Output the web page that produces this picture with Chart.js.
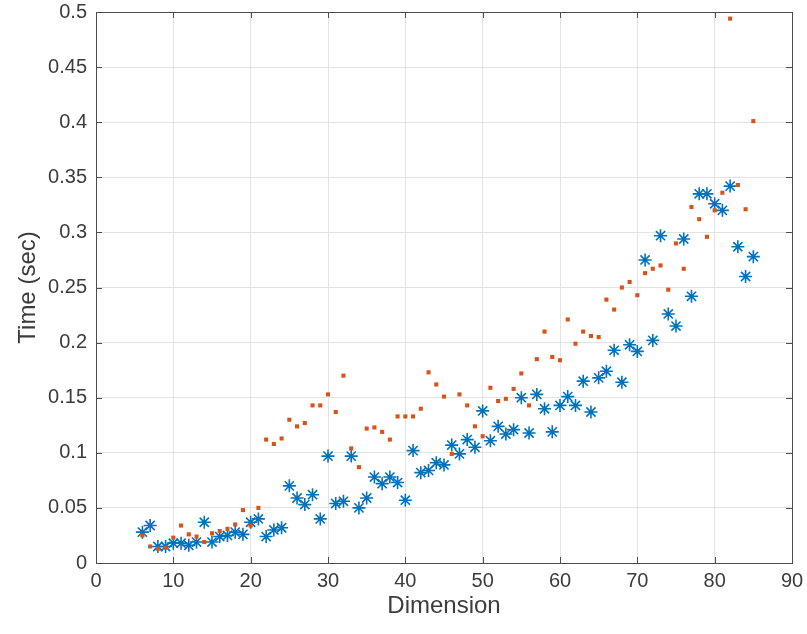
<!DOCTYPE html>
<html>
<head>
<meta charset="utf-8">
<script src="https://cdn.jsdelivr.net/npm/chart.js@4/dist/chart.umd.min.js"></script>
<style>
  html, body { margin: 0; padding: 0; background: #fff; }
  canvas { display: block; }
</style>
</head>
<body>
<canvas id="myChart" width="807" height="634"></canvas>
<script>
// dimensions 6..85
const dims = [6,7,8,9,10,11,12,13,14,15,16,17,18,19,20,21,22,23,24,25,
  26,27,28,29,30,31,32,33,34,35,36,37,38,39,40,41,42,43,44,45,
  46,47,48,49,50,51,52,53,54,55,56,57,58,59,60,61,62,63,64,65,
  66,67,68,69,70,71,72,73,74,75,76,77,78,79,80,81,82,83,84,85];

// blue asterisks
const timeStar = [0.028,0.034,0.015,0.015,0.018,0.018,0.016,0.019,0.037,0.019,
  0.024,0.025,0.028,0.026,0.037,0.040,0.024,0.030,0.032,0.070,
  0.059,0.053,0.062,0.040,0.097,0.054,0.056,0.097,0.050,0.059,
  0.078,0.072,0.078,0.073,0.057,0.102,0.082,0.084,0.091,0.089,
  0.107,0.099,0.112,0.105,0.138,0.111,0.124,0.117,0.121,0.150,
  0.118,0.153,0.140,0.119,0.143,0.151,0.143,0.165,0.137,0.168,
  0.174,0.193,0.164,0.198,0.192,0.275,0.202,0.297,0.226,0.215,
  0.294,0.242,0.335,0.335,0.326,0.320,0.342,0.287,0.260,0.278];

// orange dots
const timeDot = [0.025,0.015,0.013,0.014,0.023,0.034,0.026,0.024,0.019,0.027,
  0.029,0.031,0.035,0.048,0.034,0.050,0.112,0.108,0.113,0.130,
  0.124,0.127,0.143,0.143,0.153,0.137,0.170,0.104,0.087,0.122,
  0.123,0.119,0.112,0.133,0.133,0.133,0.140,0.173,0.162,0.151,
  0.099,0.153,0.143,0.124,0.115,0.159,0.147,0.149,0.158,0.172,
  0.143,0.185,0.210,0.187,0.184,0.221,0.199,0.210,0.206,0.205,
  0.239,0.230,0.250,0.255,0.243,0.263,0.267,0.270,0.248,0.290,
  0.267,0.323,0.312,0.296,0.320,0.336,0.494,0.343,0.321,0.401];

const yTickLabels = ['0','0.05','0.1','0.15','0.2','0.25','0.3','0.35','0.4','0.45','0.5'];
const xTickLabels = ['0','10','20','30','40','50','60','70','80','90'];

const toPts = (ys) => dims.map((d, i) => ({ x: d, y: ys[i] }));
const fontFam = 'Liberation Sans, Arial, sans-serif';

// matlab style box with inward ticks on all four sides
const boxPlugin = {
  id: 'box',
  afterDraw(chart) {
    const { ctx, chartArea: a, scales } = chart;
    ctx.save();
    ctx.strokeStyle = '#4d4d4d';
    ctx.lineWidth = 1;
    ctx.strokeRect(a.left + 0.5, a.top + 0.5, a.right - a.left, a.bottom - a.top);
    ctx.beginPath();
    const len = 6;
    scales.x.ticks.forEach(t => {
      const px = Math.round(scales.x.getPixelForValue(t.value)) + 0.5;
      ctx.moveTo(px, a.bottom); ctx.lineTo(px, a.bottom - len);
      ctx.moveTo(px, a.top); ctx.lineTo(px, a.top + len);
    });
    scales.y.ticks.forEach(t => {
      const py = Math.round(scales.y.getPixelForValue(t.value)) + 0.5;
      ctx.moveTo(a.left, py); ctx.lineTo(a.left + len, py);
      ctx.moveTo(a.right, py); ctx.lineTo(a.right - len, py);
    });
    ctx.stroke();
    ctx.restore();
  }
};

const ctx = document.getElementById('myChart');
new Chart(ctx, {
  type: 'scatter',
  data: {
    datasets: [{
      data: toPts(timeDot),
      pointStyle: 'rect',
      pointRadius: 2.9,
      backgroundColor: '#D95319',
      borderColor: '#D95319',
      borderWidth: 0,
      order: 0
    }, {
      data: toPts(timeStar),
      pointStyle: 'star',
      pointRadius: 6.5,
      borderColor: '#0072BD',
      backgroundColor: '#0072BD',
      borderWidth: 1.6,
      order: 1
    }]
  },
  options: {
    responsive: false,
    animation: false,
    layout: { padding: { left: 0, right: 15, top: 12, bottom: 0 } },
    plugins: { legend: { display: false }, tooltip: { enabled: false } },
    scales: {
      x: {
        type: 'linear', min: 0, max: 90,
        afterFit: (s) => { s.height = 71; s.paddingLeft = 0; s.paddingRight = 0; },
        ticks: {
          stepSize: 10, padding: 6, color: '#3c3c3c', maxRotation: 0,
          font: { family: fontFam, size: 20 },
          callback: (v, i) => xTickLabels[i]
        },
        grid: { color: '#e3e3e3', drawTicks: false },
        border: { display: false },
        title: {
          display: true, text: 'Dimension', color: '#3c3c3c',
          font: { family: fontFam, size: 24 },
          padding: { top: 0, bottom: 13 }
        }
      },
      y: {
        min: 0, max: 0.5,
        afterFit: (s) => { s.width = 96; s.paddingTop = 0; s.paddingBottom = 0; },
        ticks: {
          stepSize: 0.05, padding: 9, color: '#3c3c3c',
          font: { family: fontFam, size: 20 },
          callback: (v, i) => yTickLabels[i]
        },
        grid: { color: '#e3e3e3', drawTicks: false },
        border: { display: false },
        title: {
          display: true, text: 'Time (sec)', color: '#3c3c3c',
          font: { family: fontFam, size: 24 },
          padding: { top: 14, bottom: 0 }
        }
      }
    }
  },
  plugins: [boxPlugin]
});
</script>
</body>
</html>
